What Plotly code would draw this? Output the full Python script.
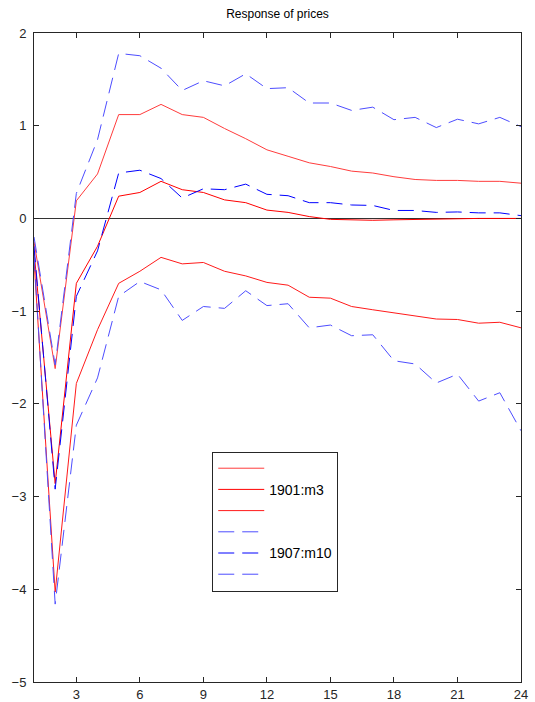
import plotly.graph_objects as go

periods = list(range(1, 25))

red_upper = [-0.25, -1.62, 0.19, 0.48, 1.12, 1.12, 1.23, 1.12, 1.09, 0.97, 0.86, 0.74,
             0.67, 0.60, 0.56, 0.51, 0.49, 0.45, 0.42, 0.41, 0.41, 0.40, 0.40, 0.38]
red_mid = [-0.35, -2.86, -0.70, -0.30, 0.24, 0.28, 0.40, 0.31, 0.28, 0.20, 0.17, 0.09,
           0.065, 0.02, -0.01, -0.015, -0.02, -0.015, -0.01, -0.01, -0.005, 0.0, 0.0, 0.0]
red_lower = [-0.45, -4.03, -1.78, -1.20, -0.70, -0.57, -0.42, -0.49, -0.475, -0.57, -0.62, -0.69,
             -0.72, -0.85, -0.86, -0.95, -0.985, -1.02, -1.05, -1.085, -1.09, -1.13, -1.12, -1.18]
blue_upper = [-0.20, -1.58, 0.27, 0.85, 1.78, 1.755, 1.62, 1.38, 1.485, 1.43, 1.56, 1.40,
              1.41, 1.245, 1.245, 1.165, 1.20, 1.065, 1.09, 0.98, 1.07, 1.02, 1.09, 0.99]
blue_mid = [-0.30, -2.92, -0.84, -0.35, 0.49, 0.52, 0.43, 0.22, 0.32, 0.31, 0.37, 0.26,
            0.245, 0.17, 0.17, 0.145, 0.14, 0.086, 0.086, 0.065, 0.07, 0.06, 0.06, 0.03]
blue_lower = [-0.40, -4.16, -2.23, -1.72, -0.84, -0.68, -0.77, -1.10, -0.95, -0.97, -0.78, -0.94,
              -0.92, -1.18, -1.15, -1.265, -1.255, -1.535, -1.57, -1.775, -1.68, -1.97, -1.88, -2.29]

series_names = ["", "1901:m3", "", "", "1907:m10", ""]
x_ticks = [3, 6, 9, 12, 15, 18, 21, 24]
y_ticks = [-5, -4, -3, -2, -1, 0, 1, 2]
title_text = "Response of prices"

series = [red_upper, red_mid, red_lower, blue_upper, blue_mid, blue_lower]
colors = ["#ff3c3c", "#ff0000", "#ff1a1a", "#4d4dff", "#0000ff", "#4d4dff"]
dashes = ["solid", "solid", "solid", "16px,8px", "16px,8px", "16px,8px"]

fig = go.Figure()
for vals, name, col, dsh in zip(series, series_names, colors, dashes):
    fig.add_trace(go.Scatter(x=periods, y=vals, mode="lines", name=name,
                             line=dict(color=col, width=1, dash=dsh)))

axis_common = dict(showline=True, linecolor="#262626", linewidth=1, mirror="ticks",
                   ticks="inside", ticklen=5, tickcolor="#262626", showgrid=False,
                   tickfont=dict(family="Arial", size=13, color="#262626"))

fig.update_layout(
    width=535, height=702,
    margin=dict(l=34, r=14, t=33, b=20, autoexpand=False),
    paper_bgcolor="white", plot_bgcolor="white",
    title=dict(text=title_text, x=0.5, xref="paper", y=1 - 14 / 702, yanchor="middle",
               font=dict(family="Arial", size=12, color="black")),
    xaxis=dict(range=[1, 24], tickvals=x_ticks, zeroline=False, automargin=False, **axis_common),
    yaxis=dict(range=[-5, 2], tickvals=y_ticks, zeroline=True, zerolinecolor="#333333",
               zerolinewidth=1, automargin=False, ticklabelstandoff=4, **axis_common),
    showlegend=True,
    legend=dict(x=0.366, y=0.355, xanchor="left", yanchor="top",
                bordercolor="#262626", borderwidth=1, bgcolor="white",
                font=dict(family="Arial", size=14, color="black"), itemwidth=46),
)

fig.write_html("out.html", config={"displayModeBar": False},
               post_script="document.body.style.margin='0';")
